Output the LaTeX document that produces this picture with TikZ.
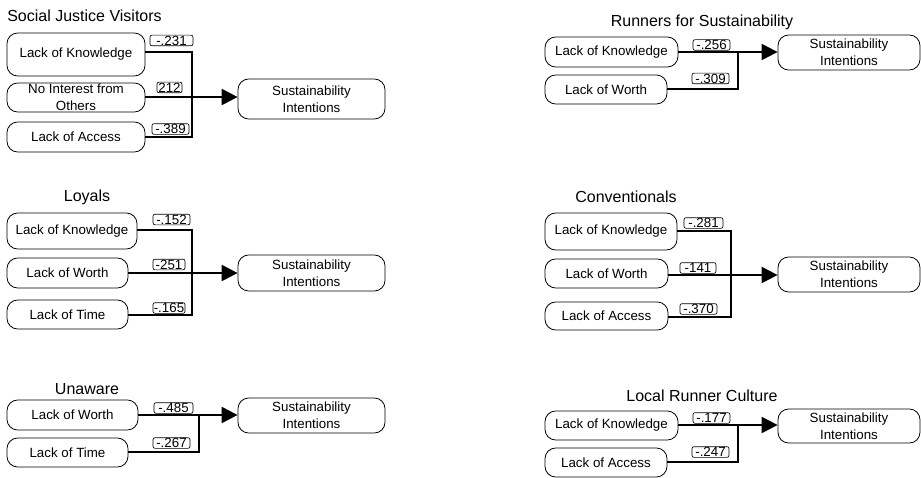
\documentclass[tikz,border=0pt]{standalone}
\usepackage{fontspec}
\setmainfont{Liberation Sans}
\usetikzlibrary{arrows.meta}
\begin{document}
\begin{tikzpicture}[x=0.75pt,y=-0.75pt,
  box/.style={draw, line width=0.6pt, rounded corners=8pt, align=center, inner sep=0pt,
    font=\fontsize{10}{12.5}\selectfont},
  coef/.style={draw, fill=white, line width=0.5pt, rounded corners=1.5pt, inner sep=0pt,
    minimum height=8pt, font=\fontsize{10}{10}\selectfont},
  ttl/.style={font=\fontsize{12}{14}\selectfont, inner sep=0pt},
  link/.style={line width=1.7pt},
  arr/.style={line width=1.7pt, -{Triangle[length=12pt,width=12pt]}}]
\useasboundingbox (0,0) rectangle (921,478);

% ---------- Social Justice Visitors ----------
\node[ttl, anchor=west] (t1) at (7,16) {Social Justice Visitors};
\node[box, minimum width=103.5pt, minimum height=32.25pt] (k1) at (76,54.5) {Lack of Knowledge};
\node[box, minimum width=103.5pt, minimum height=21.75pt] (n1) at (76,97.5) {No Interest from\\Others};
\node[box, minimum width=103.5pt, minimum height=22.5pt] (a1) at (76,137) {Lack of Access};
\node[box, minimum width=110.25pt, minimum height=30pt] (s1) at (311.5,99) {Sustainability\\Intentions};
\coordinate (j1t) at (192,52);
\coordinate (j1m) at (192,97);
\coordinate (j1b) at (192,137);
\node[coef, minimum width=32.25pt] (c11) at (171.5,40.5) {-.231};
\node[coef, minimum width=18.75pt] (c12) at (169.5,87.5) {212};
\node[coef, minimum width=27.75pt] (c13) at (170.5,129) {-.389};
\draw[link] (k1.east |- j1t) -- (j1t) -- (j1b) -- (a1.east |- j1b);
\draw[arr] (n1.east |- j1m) -- (s1.west |- j1m);

% ---------- Loyals ----------
\node[ttl] (t2) at (87,197) {Loyals};
\node[box, minimum width=97.5pt, minimum height=27pt] (k2) at (72,231) {Lack of Knowledge};
\node[box, minimum width=90.75pt, minimum height=22.5pt] (w2) at (67.5,273) {Lack of Worth};
\node[box, minimum width=90.75pt, minimum height=21.75pt] (m2) at (67.5,314.5) {Lack of Time};
\node[box, minimum width=110.25pt, minimum height=27pt] (s2) at (311.5,273) {Sustainability\\Intentions};
\coordinate (j2t) at (192,230);
\coordinate (j2m) at (192,273);
\coordinate (j2b) at (192,315);
\node[coef, minimum width=27.75pt] (c21) at (171.5,219.5) {-.152};
\node[coef, minimum width=24pt] (c22) at (169,264.5) {-251};
\node[coef, minimum width=24pt] (c23) at (169,308) {-.165};
\draw[link] (k2.east |- j2t) -- (j2t) -- (j2b) -- (m2.east |- j2b);
\draw[arr] (w2.east |- j2m) -- (s2.west |- j2m);

% ---------- Unaware ----------
\node[ttl] (t3) at (87,389) {Unaware};
\node[box, minimum width=98.25pt, minimum height=22.5pt] (w3) at (72.5,415) {Lack of Worth};
\node[box, minimum width=90.75pt, minimum height=21.75pt] (m3) at (67.5,452.5) {Lack of Time};
\node[box, minimum width=110.25pt, minimum height=26.25pt] (s3) at (311.5,415.5) {Sustainability\\Intentions};
\coordinate (j3t) at (199,415);
\coordinate (j3b) at (199,452);
\node[coef, minimum width=29.25pt] (c31) at (173.5,408) {-.485};
\node[coef, minimum width=27.75pt] (c32) at (171.5,443) {-.267};
\draw[link] (j3t) -- (j3b) -- (m3.east |- j3b);
\draw[arr] (w3.east |- j3t) -- (s3.west |- j3t);

% ---------- Runners for Sustainability ----------
\node[ttl] (t4) at (702,22) {Runners for Sustainability};
\node[box, minimum width=99.75pt, minimum height=22.5pt] (k4) at (611.5,52) {Lack of Knowledge};
\node[box, minimum width=91.5pt, minimum height=21.75pt] (w4) at (606,89.5) {Lack of Worth};
\node[box, minimum width=106.5pt, minimum height=26.25pt] (s4) at (849,52.5) {Sustainability\\Intentions};
\coordinate (j4t) at (738,52);
\coordinate (j4b) at (738,89);
\node[coef, minimum width=27.75pt] (c41) at (711.5,45) {-.256};
\node[coef, minimum width=27.75pt] (c42) at (710.5,78.5) {-.309};
\draw[link] (j4t) -- (j4b) -- (w4.east |- j4b);
\draw[arr] (k4.east |- j4t) -- (s4.west |- j4t);

% ---------- Conventionals ----------
\node[ttl] (t5) at (626,197) {Conventionals};
\node[box, minimum width=99pt, minimum height=27.75pt] (k5) at (611,231.5) {Lack of Knowledge};
\node[box, minimum width=92.25pt, minimum height=21.75pt] (w5) at (606.5,273.5) {Lack of Worth};
\node[box, minimum width=92.25pt, minimum height=21pt] (a5) at (606.5,316) {Lack of Access};
\node[box, minimum width=106.5pt, minimum height=26.25pt] (s5) at (849,274.5) {Sustainability\\Intentions};
\coordinate (j5t) at (731,231);
\coordinate (j5m) at (731,275);
\coordinate (j5b) at (731,317);
\node[coef, minimum width=29.25pt] (c51) at (703.5,223) {-.281};
\node[coef, minimum width=27pt] (c52) at (698,268) {-141};
\node[coef, minimum width=27.75pt] (c53) at (698.5,309) {-.370};
\draw[link] (k5.east |- j5t) -- (j5t) -- (j5b) -- (a5.east |- j5b);
\draw[arr] (w5.east |- j5m) -- (s5.west |- j5m);

% ---------- Local Runner Culture ----------
\node[ttl] (t6) at (702,396) {Local Runner Culture};
\node[box, minimum width=99.75pt, minimum height=21.75pt] (k6) at (611.5,425.5) {Lack of Knowledge};
\node[box, minimum width=91.5pt, minimum height=21.75pt] (a6) at (606,462.5) {Lack of Access};
\node[box, minimum width=106.5pt, minimum height=25.5pt] (s6) at (849,426) {Sustainability\\Intentions};
\coordinate (j6t) at (738,425);
\coordinate (j6b) at (738,462);
\node[coef, minimum width=27.75pt] (c61) at (711.5,418) {-.177};
\node[coef, minimum width=27.75pt] (c62) at (710.5,452) {-.247};
\draw[link] (j6t) -- (j6b) -- (a6.east |- j6b);
\draw[arr] (k6.east |- j6t) -- (s6.west |- j6t);
\end{tikzpicture}
\end{document}
